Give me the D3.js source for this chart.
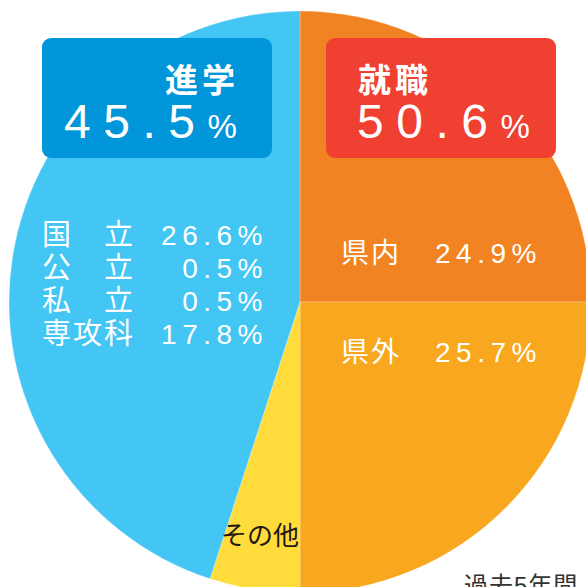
<!DOCTYPE html>
<html>
<head>
<meta charset="utf-8">
<script src="https://cdn.jsdelivr.net/npm/d3@7"></script>
<style>
  body { margin: 0; background: #fff; }
  svg { display: block; }
  text { font-family: "Liberation Sans", "Noto Sans CJK JP", sans-serif; }
</style>
</head>
<body>
<svg id="chart"></svg>
<script>
// slice order clockwise from 12 o'clock
const sliceNames = ['県内', '県外', 'その他', '進学'];
const sliceShares = [25.0, 25.0, 5.0, 45.0];
const sliceColors = ['#f28322', '#f8a71e', '#ffdc3b', '#43c6f4'];

// headline boxes
const boxTitles = ['進学', '就職'];
const boxValues = ['45.5', '50.6'];
const boxColors = ['#0096d9', '#ef4031'];

// breakdown of 進学
const schoolLabels = ['国　立', '公　立', '私　立', '専攻科'];
const schoolValues = ['26.6%', '0.5%', '0.5%', '17.8%'];

// breakdown of 就職
const jobLabels = ['県内', '県外'];
const jobValues = ['24.9%', '25.7%'];

const width = 586, height = 587;
const cx = 300, cy = 302, radius = 291;

const svg = d3.select('#chart')
    .attr('width', width)
    .attr('height', height);

const pie = d3.pie().sort(null).value(d => d.v);
const arc = d3.arc().innerRadius(0).outerRadius(radius);

const slices = sliceNames.map((n, i) => ({name: n, v: sliceShares[i], color: sliceColors[i]}));

const chart = svg.append('g')
    .attr('transform', `translate(${cx},${cy})`);

chart.selectAll('.slice')
  .data(pie(slices))
  .join('path')
    .attr('class', 'slice')
    .attr('d', arc)
    .attr('fill', d => d.data.color)
    .attr('stroke', '#fff')
    .attr('stroke-opacity', 0.25)
    .attr('stroke-width', 1);

// headline boxes
const boxX = d3.scaleOrdinal().domain(boxTitles).range([42, 326]);
const boxes = svg.selectAll('.box')
  .data(boxTitles)
  .join('g')
    .attr('class', 'box')
    .attr('transform', d => `translate(${boxX(d)},38)`);

boxes.append('rect')
    .attr('width', 230)
    .attr('height', 120)
    .attr('rx', 9)
    .attr('fill', (d, i) => boxColors[i]);

boxes.append('text')
    .attr('x', (d, i) => i === 0 ? 123 : 32)
    .attr('y', 54)
    .attr('fill', '#fff')
    .attr('font-size', 33)
    .attr('font-weight', 'bold')
    .attr('letter-spacing', 4)
    .text(d => d);

const big = boxes.append('text')
    .attr('x', (d, i) => i === 0 ? 22 : 31)
    .attr('y', 100)
    .attr('fill', '#fff')
    .attr('letter-spacing', 12.5);
big.append('tspan')
    .attr('font-size', 48)
    .text((d, i) => boxValues[i]);
big.append('tspan')
    .attr('font-size', 33)
    .attr('letter-spacing', 0)
    .text('%');

// 進学 breakdown
const rowY = d3.scalePoint().domain(schoolLabels).range([245, 344]);
svg.selectAll('.school-label')
  .data(schoolLabels)
  .join('text')
    .attr('class', 'school-label')
    .attr('x', 42)
    .attr('y', d => rowY(d))
    .attr('fill', '#fff')
    .attr('font-size', 29)
    .attr('letter-spacing', 2)
    .text(d => d);
svg.selectAll('.school-value')
  .data(schoolValues)
  .join('text')
    .attr('class', 'school-value')
    .attr('x', 268)
    .attr('y', (d, i) => rowY(schoolLabels[i]))
    .attr('text-anchor', 'end')
    .attr('fill', '#fff')
    .attr('font-size', 28)
    .attr('letter-spacing', 5.5)
    .text(d => d);

// 就職 breakdown
const jobY = d3.scaleOrdinal().domain(jobLabels).range([263, 362]);
svg.selectAll('.job-label')
  .data(jobLabels)
  .join('text')
    .attr('class', 'job-label')
    .attr('x', 341)
    .attr('y', d => jobY(d))
    .attr('fill', '#fff')
    .attr('font-size', 28)
    .attr('letter-spacing', 2)
    .text(d => d);
svg.selectAll('.job-value')
  .data(jobValues)
  .join('text')
    .attr('class', 'job-value')
    .attr('x', 435)
    .attr('y', (d, i) => jobY(jobLabels[i]))
    .attr('fill', '#fff')
    .attr('font-size', 28)
    .attr('letter-spacing', 5.5)
    .text(d => d);

// その他 label
svg.append('text')
    .attr('x', 221)
    .attr('y', 545)
    .attr('fill', '#231815')
    .attr('font-size', 26)
    .text('その他');

// footnote, clipped by the frame
svg.append('text')
    .attr('x', 464)
    .attr('y', 594)
    .attr('fill', '#333')
    .attr('font-size', 24)
    .attr('letter-spacing', 1)
    .text('過去5年間');
</script>
</body>
</html>
